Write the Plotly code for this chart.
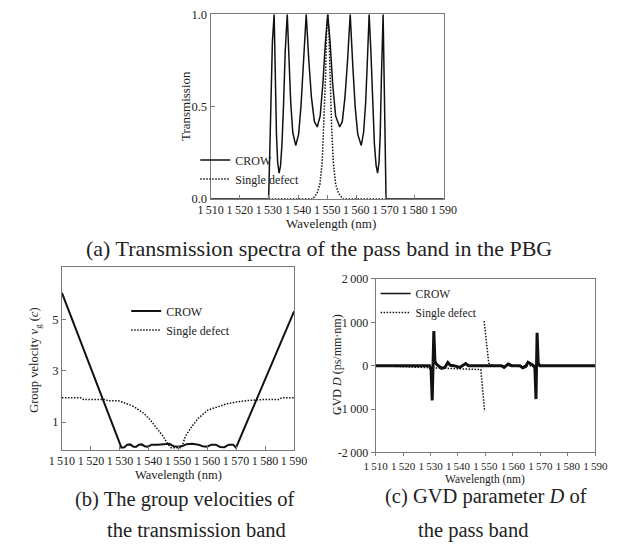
import plotly.graph_objects as go

# ---------------- data ----------------
# (a) transmission spectra
wl_a_crow = [1510, 1529.9, 1530.3, 1530.7, 1531.2, 1531.8, 1532.2, 1532.6, 1533.0, 1533.5, 1534.0, 1534.5,
             1535.0, 1535.6, 1536.3, 1536.9, 1537.5, 1538.2, 1539.2, 1540.2, 1541.0, 1541.8, 1542.8,
             1543.7, 1544.6, 1545.6, 1546.6, 1547.6, 1548.5, 1549.4, 1550.2, 1551.0, 1551.9, 1552.9,
             1554.3, 1555.2, 1556.1, 1557.0, 1557.9, 1558.8, 1559.6, 1560.5, 1561.7, 1562.5, 1563.2,
             1563.8, 1564.4, 1565.0, 1565.6, 1566.2, 1566.8, 1567.3, 1567.8, 1568.2, 1568.6, 1569.2,
             1569.6, 1569.9, 1570.2, 1590]
tr_a_crow = [0.0, 0.0, 0.25, 0.55, 0.85, 1.0, 0.65, 0.35, 0.2, 0.14, 0.18, 0.3,
             0.5, 0.8, 1.0, 0.75, 0.52, 0.36, 0.29, 0.35, 0.5, 0.72, 1.0,
             0.75, 0.55, 0.42, 0.39, 0.45, 0.62, 0.85, 1.0, 0.85, 0.62, 0.45,
             0.39, 0.42, 0.55, 0.75, 1.0, 0.72, 0.5, 0.35, 0.29, 0.36, 0.52,
             0.75, 1.0, 0.8, 0.5, 0.3, 0.18, 0.14, 0.2, 0.35, 0.65, 1.0,
             0.6, 0.25, 0.0, 0.0]
wl_a_single = [1530, 1545.0, 1546.5, 1547.5, 1548.3, 1548.9, 1549.4, 1549.8, 1550.2, 1550.6, 1551.0,
               1551.5, 1552.1, 1552.9, 1553.9, 1555.5, 1570]
tr_a_single = [0.0, 0.0, 0.03, 0.08, 0.2, 0.4, 0.65, 0.9, 1.0, 0.9, 0.65,
               0.4, 0.2, 0.08, 0.03, 0.0, 0.0]

# (b) group velocity (units of c)
wl_b_crow = [1510, 1530.5, 1531.5, 1532.5, 1533.5, 1534.5, 1535.5, 1536.5, 1537.5, 1538.5, 1539.5,
             1541, 1543, 1545, 1547, 1548.5, 1550, 1551.5, 1553, 1555, 1557, 1558.5, 1560, 1561.5,
             1563, 1564.5, 1566, 1567.5, 1569, 1570, 1590]
vg_b_crow = [6.05, 0.0, 0.02, 0.12, 0.13, 0.05, 0.03, 0.12, 0.13, 0.06, 0.04,
             0.12, 0.12, 0.14, 0.15, 0.06, 0.04, 0.07, 0.14, 0.15, 0.12, 0.06, 0.04, 0.12,
             0.12, 0.03, 0.02, 0.12, 0.12, 0.0, 5.33]
wl_b_single = [1510, 1516.5, 1517.5, 1525, 1526, 1529.5, 1531.6, 1534.9, 1538.2, 1540.4, 1542.6,
               1544.8, 1546.5, 1547.6, 1551.2, 1552.6, 1554.8, 1557, 1560.3, 1563.7, 1567, 1570.3,
               1574.7, 1579.1, 1584.7, 1585.8, 1590]
vg_b_single = [1.95, 1.95, 1.88, 1.88, 1.83, 1.83, 1.75, 1.6, 1.34, 1.09, 0.77,
               0.46, 0.14, 0.0, 0.0, 0.46, 0.83, 1.15, 1.47, 1.6, 1.72, 1.79,
               1.85, 1.88, 1.88, 1.95, 1.95]

# (c) GVD parameter D (ps/mm·nm)
wl_c_crow = [1510, 1529.6, 1530.2, 1530.6, 1531.2, 1531.6, 1532.2, 1533.0, 1534.0, 1535.2, 1536.3,
             1537.2, 1538.5, 1540.6, 1541.5, 1542.8, 1543.8, 1550, 1555.8, 1556.8, 1558.3, 1559.5,
             1562.5, 1563.6, 1564.6, 1565.5, 1566.5, 1567.3, 1568.0, 1568.4, 1568.8, 1569.2,
             1569.8, 1590]
gvd_c_crow = [0, 0, -100, -800, 800, 100, 30, -20, -60, -40, 75,
              10, 0, -40, -10, 50, 0, 0, 0, -40, 40, 0,
              0, -50, -20, 80, 30, 10, -50, -770, 760, 60,
              0, 0]
wl_c_single = [1510, 1548.3, 1549.7, None, 1549.5, 1551.2, 1552.5, 1590]
gvd_c_single = [0, -90, -1053, None, 1030, 60, 0, 0]

# ticks (thin space as thousands separator)
wl_ticks = [1510, 1520, 1530, 1540, 1550, 1560, 1570, 1580, 1590]
wl_ticktext = ["1\u2009510", "1\u2009520", "1\u2009530", "1\u2009540", "1\u2009550",
               "1\u2009560", "1\u2009570", "1\u2009580", "1\u2009590"]
tr_ticks = [0, 0.5, 1.0]
tr_ticktext = ["0.0", "0.5", "1.0"]
vg_ticks = [1, 3, 5]
gvd_ticks = [-2000, -1000, 0, 1000, 2000]
gvd_ticktext = ["-2\u2009000", "-1\u2009000", "0", "1\u2009000", "2\u2009000"]

# ---------------- layout helpers ----------------
W, H = 639, 553
FONT = "Liberation Serif, Times New Roman, serif"
AX = "#7a7a7a"
TXT = "#222222"
LC = "#111111"
DOT = "1.5px,1.5px"


def fx(p):
    return p / W


def fy(p):
    return 1 - p / H


fig = go.Figure()

# (a)
fig.add_trace(go.Scatter(x=wl_a_crow, y=tr_a_crow, mode="lines", name="CROW",
                         line=dict(color=LC, width=1.5), xaxis="x", yaxis="y", legend="legend"))
fig.add_trace(go.Scatter(x=wl_a_single, y=tr_a_single, mode="lines", name="Single defect",
                         line=dict(color=LC, width=1.5, dash=DOT), xaxis="x", yaxis="y",
                         legend="legend"))
# (b)
fig.add_trace(go.Scatter(x=wl_b_crow, y=vg_b_crow, mode="lines", name="CROW",
                         line=dict(color=LC, width=2), xaxis="x2", yaxis="y2", legend="legend2"))
fig.add_trace(go.Scatter(x=wl_b_single, y=vg_b_single, mode="lines", name="Single defect",
                         line=dict(color=LC, width=1.5, dash=DOT), xaxis="x2", yaxis="y2",
                         legend="legend2"))
# (c)
fig.add_trace(go.Scatter(x=wl_c_single, y=gvd_c_single, mode="lines", name="Single defect",
                         line=dict(color=LC, width=1.5, dash=DOT), xaxis="x3", yaxis="y3",
                         legend="legend3", connectgaps=False, legendrank=2))
fig.add_trace(go.Scatter(x=wl_c_crow, y=gvd_c_crow, mode="lines", name="CROW",
                         line=dict(color=LC, width=3), xaxis="x3", yaxis="y3", showlegend=False))
# legend entry for (c) CROW drawn with the thinner key line of the reference
fig.add_trace(go.Scatter(x=[None], y=[None], mode="lines", name="CROW",
                         line=dict(color=LC, width=1.5), xaxis="x3", yaxis="y3", legend="legend3",
                         legendrank=1))


def xax(domain, anchor, ticks, fs, tl=4):
    return dict(domain=domain, anchor=anchor, range=[1510, 1590], tickvals=wl_ticks, ticktext=wl_ticktext,
                tickangle=0, showline=True, linecolor=AX, linewidth=1, mirror=True, ticks=ticks, ticklen=tl,
                tickcolor=AX, showgrid=False, zeroline=False, tickfont=dict(family=FONT, size=fs, color=TXT))


def yax(domain, anchor, rng, tv, tt, ticks, fs):
    d = dict(domain=domain, anchor=anchor, range=rng, tickvals=tv, showline=True, linecolor=AX,
             linewidth=1, mirror=True, ticks=ticks, ticklen=4, tickcolor=AX, showgrid=False,
             zeroline=False, tickfont=dict(family=FONT, size=fs, color=TXT))
    if tt is not None:
        d["ticktext"] = tt
    return d


legend_common = dict(bgcolor="rgba(0,0,0,0)", borderwidth=0, xanchor="left", yanchor="top",
                     tracegroupgap=0, itemclick=False, itemdoubleclick=False)

fig.update_layout(
    width=W, height=H, margin=dict(l=0, r=0, t=0, b=0),
    paper_bgcolor="white", plot_bgcolor="white",
    font=dict(family=FONT, color=TXT),
    xaxis=xax([fx(206), fx(449)], "y", "inside", 12),
    yaxis=yax([fy(197), fy(7.5)], "x", [0, 1], tr_ticks, tr_ticktext, "inside", 12.5),
    xaxis2=xax([fx(51), fx(293)], "y2", "inside", 12),
    yaxis2=yax([fy(454), fy(267)], "x2", [-0.07, 7.05], vg_ticks, None, "inside", 12.5),
    xaxis3=xax([fx(378), fx(607)], "y3", "outside", 11, tl=3),
    yaxis3=yax([fy(457), fy(279)], "x3", [-2000, 2000], gvd_ticks, gvd_ticktext, "outside", 12),
    legend=dict(x=fx(190), y=fy(142), font=dict(family=FONT, size=12, color=TXT), **legend_common),
    legend2=dict(x=fx(118), y=fy(297), font=dict(family=FONT, size=12, color=TXT), **legend_common),
    legend3=dict(x=fx(378), y=fy(279), font=dict(family=FONT, size=11.5, color=TXT), **legend_common),
    showlegend=True,
)

annots = [
    # axis titles
    dict(text="Wavelength (nm)", x=fx(331), y=fy(222), size=13, angle=0),
    dict(text="Transmission", x=fx(180), y=fy(102), size=13, angle=-90),
    dict(text="Wavelength (nm)", x=fx(172), y=fy(480), size=12.5, angle=0),
    dict(text="Group velocity <i>v</i><sub>g</sub> (<i>c</i>)", x=fx(23), y=fy(363), size=12.5, angle=-90),
    dict(text="Wavelength (nm)", x=fx(492), y=fy(485), size=11.5, angle=0),
    dict(text="GVD <i>D</i> (ps/mm·nm)", x=fx(337), y=fy(367), size=12, angle=-90),
    # captions
    dict(text="(a) Transmission spectra of the pass band in the PBG", x=fx(319), y=fy(248), size=22, angle=0),
    dict(text="(b) The group velocities of", x=fx(179), y=fy(505), size=20.5, angle=0),
    dict(text="the transmission band", x=fx(191), y=fy(537), size=20.5, angle=0),
    dict(text="(c) GVD parameter <i>D</i> of", x=fx(493), y=fy(502), size=20.5, angle=0),
    dict(text="the pass band", x=fx(480), y=fy(537), size=20.5, angle=0),
]
for a in annots:
    fig.add_annotation(text=a["text"], x=a["x"], y=a["y"], xref="paper", yref="paper",
                       xanchor="center", yanchor="middle", showarrow=False, textangle=a["angle"],
                       font=dict(family=FONT, size=a["size"], color=TXT))

fig.write_html("out.html")
